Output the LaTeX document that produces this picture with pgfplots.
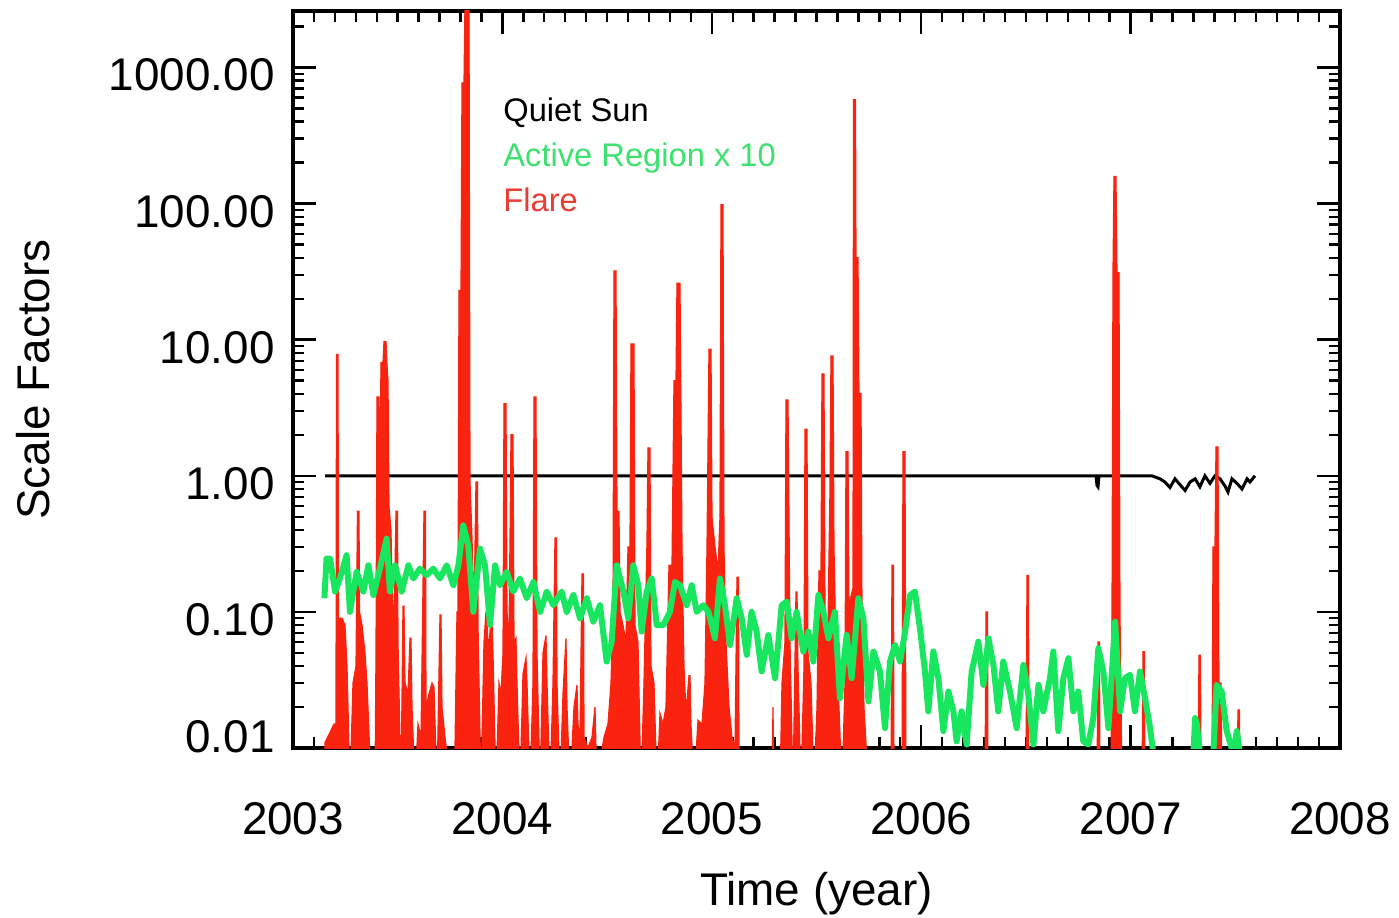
\documentclass[border=0pt]{standalone}
\usepackage{fontspec}
\setmainfont{Liberation Sans}
\usepackage{pgfplots}
\pgfplotsset{compat=1.18}
\usetikzlibrary{calc}
\definecolor{flarered}{RGB}{250,35,15}
\definecolor{argreen}{RGB}{25,230,95}
\definecolor{flaretext}{RGB}{235,60,50}
\definecolor{artext}{RGB}{60,225,110}
\begin{document}
\begin{tikzpicture}
\begin{axis}[name=ax, scale only axis, width=523.5bp, height=368.5bp,
  xmin=2003, xmax=2008, ymode=log, ymin=0.01, ymax=2600,
  axis line style={line width=2bp},
  xtick={2003,2004,2005,2006,2007,2008},
  xticklabels={2003,2004,2005,2006,2007,2008},
  minor x tick num=9,
  ytick={0.1,1,10,100,1000},
  yticklabels={0.10,1.00,10.00,100.00,1000.00},
  extra y ticks={0.01}, extra y tick labels={0.01},
  extra y tick style={yticklabel style={yshift=9.5bp}},
  minor ytick={0.02,0.03,0.04,0.05,0.06,0.07,0.08,0.09,0.2,0.3,0.4,0.5,0.6,0.7,0.8,0.9,2,3,4,5,6,7,8,9,20,30,40,50,60,70,80,90,200,300,400,500,600,700,800,900,2000},
  tick align=inside,
  major tick length=11.5bp, minor tick length=5.5bp,
  every tick/.style={black, line width=1.2bp},
  tick label style={font=\fontsize{23}{27}\selectfont, inner sep=0pt},
  xticklabel style={anchor=base, yshift=-43bp},
  yticklabel style={anchor=base east, xshift=-9bp, yshift=-11.75bp},
]
% Quiet Sun
\addplot[black, line width=1.5bp, mark=none] coordinates {
(2003.153,1.0) (2006.835,1.0) (2006.8395,0.85) (2006.8443,0.83) (2006.849,1.0) (2007.102,1.0)
(2007.140,0.95) (2007.164,0.9) (2007.188,0.82) (2007.212,0.95) (2007.236,0.86) (2007.260,0.78)
(2007.284,0.9) (2007.308,0.95) (2007.331,0.83) (2007.355,1.0) (2007.379,0.88) (2007.403,1.0)
(2007.427,0.95) (2007.451,0.84) (2007.465,0.76) (2007.484,0.95) (2007.508,0.88) (2007.532,0.8)
(2007.556,0.95) (2007.570,0.9) (2007.594,1.0)
};
% Flare
\addplot[draw=flarered, fill=flarered, line width=0.6bp, mark=none] coordinates {
(2003.1480,0.001) (2003.1528,0.011) (2003.1767,0.013) (2003.1958,0.015) (2003.2053,0.015)
(2003.2077,7.8) (2003.2149,7.8) (2003.2173,0.09) (2003.2340,0.09) (2003.2483,0.08)
(2003.2579,0.04) (2003.2722,0.005) (2003.2865,0.03) (2003.3009,0.04) (2003.3080,0.55)
(2003.3152,0.55) (2003.3176,0.1) (2003.3295,0.08) (2003.3438,0.05) (2003.3534,0.03)
(2003.3629,0.013) (2003.3725,0.005) (2003.3916,0.005) (2003.3964,0.05) (2003.4011,3.8)
(2003.4107,3.8) (2003.4155,1.0) (2003.4202,6.8) (2003.4298,6.8) (2003.4346,9.7)
(2003.4441,9.7) (2003.4489,6.5) (2003.4537,5) (2003.4584,0.6) (2003.4680,0.4)
(2003.4728,0.15) (2003.4823,0.08) (2003.4919,0.55) (2003.4990,0.55) (2003.5014,0.06)
(2003.5158,0.005) (2003.5253,0.11) (2003.5301,0.11) (2003.5349,0.03) (2003.5492,0.025)
(2003.5587,0.064) (2003.5635,0.064) (2003.5683,0.02) (2003.5826,0.005) (2003.5969,0.015)
(2003.6113,0.012) (2003.6256,0.55) (2003.6328,0.55) (2003.6351,0.02) (2003.6495,0.025)
(2003.6638,0.03) (2003.6733,0.028) (2003.6877,0.005) (2003.7020,0.095) (2003.7068,0.095)
(2003.7115,0.02) (2003.7259,0.012) (2003.7402,0.008) (2003.7593,0.005) (2003.7736,0.01)
(2003.7832,0.1) (2003.7880,0.1) (2003.7927,23) (2003.8023,23) (2003.8071,770)
(2003.8166,770) (2003.8214,3000) (2003.8405,3000) (2003.8453,0.9) (2003.8548,0.35)
(2003.8644,0.1) (2003.8739,0.9) (2003.8811,0.9) (2003.8835,0.08) (2003.8978,0.005)
(2003.9121,0.06) (2003.9217,0.1) (2003.9264,0.1) (2003.9312,0.05) (2003.9455,0.085)
(2003.9503,0.085) (2003.9551,0.05) (2003.9694,0.005) (2003.9838,0.03) (2003.9933,0.025)
(2004.0029,0.05) (2004.0076,3.4) (2004.0172,3.4) (2004.0220,0.1) (2004.0315,0.06)
(2004.0411,2.0) (2004.0506,2.0) (2004.0554,0.06) (2004.0649,0.064) (2004.0697,0.03)
(2004.0840,0.005) (2004.0984,0.035) (2004.1127,0.046) (2004.1175,0.03) (2004.1318,0.005)
(2004.1461,0.03) (2004.1509,3.8) (2004.1604,3.8) (2004.1652,0.05) (2004.1795,0.005)
(2004.1939,0.05) (2004.2082,0.067) (2004.2130,0.03) (2004.2273,0.005) (2004.2416,0.03)
(2004.2512,0.35) (2004.2583,0.35) (2004.2607,0.03) (2004.2751,0.005) (2004.2894,0.025)
(2004.3037,0.064) (2004.3085,0.02) (2004.3228,0.005) (2004.3419,0.02) (2004.3562,0.029)
(2004.3610,0.015) (2004.3706,0.012) (2004.3801,0.19) (2004.3873,0.19) (2004.3897,0.012)
(2004.4088,0.01) (2004.4279,0.012) (2004.4422,0.02) (2004.4470,0.01) (2004.4661,0.008)
(2004.4852,0.012) (2004.5043,0.015) (2004.5186,0.03) (2004.5282,0.1) (2004.5329,32)
(2004.5425,32) (2004.5473,0.55) (2004.5568,0.55) (2004.5616,0.1) (2004.5759,0.08)
(2004.5902,0.06) (2004.5998,0.3) (2004.6093,0.3) (2004.6141,9.3) (2004.6284,9.3)
(2004.6332,0.08) (2004.6475,0.06) (2004.6619,0.005) (2004.6762,0.03) (2004.6905,0.33)
(2004.6953,1.6) (2004.7048,1.6) (2004.7096,0.04) (2004.7240,0.03) (2004.7383,0.005)
(2004.7526,0.018) (2004.7669,0.015) (2004.7813,0.02) (2004.7956,0.22) (2004.8099,0.22)
(2004.8195,5) (2004.8290,5) (2004.8338,26) (2004.8481,26) (2004.8577,0.3)
(2004.8672,0.04) (2004.8768,0.018) (2004.8911,0.034) (2004.8959,0.034) (2004.9006,0.015)
(2004.9150,0.005) (2004.9341,0.016) (2004.9532,0.015) (2004.9675,0.03) (2004.9771,0.3)
(2004.9866,8.5) (2004.9962,8.5) (2005.0009,0.5) (2005.0153,0.3) (2005.0296,0.2)
(2005.0391,0.5) (2005.0439,98) (2005.0535,98) (2005.0582,0.3) (2005.0678,0.06)
(2005.0821,0.02) (2005.0964,0.012) (2005.1108,0.01) (2005.1203,0.18) (2005.1275,0.18)
(2005.1299,0.01) (2005.1442,0.006) (2005.1729,0.005) (2005.2875,0.005) (2005.2922,0.02)
(2005.2970,0.005) (2005.3257,0.005) (2005.3352,0.03) (2005.3495,0.06) (2005.3543,3.6)
(2005.3639,3.6) (2005.3686,0.5) (2005.3734,0.06) (2005.3878,0.005) (2005.4021,0.14)
(2005.4069,0.14) (2005.4116,0.04) (2005.4260,0.005) (2005.4403,0.04) (2005.4451,2.2)
(2005.4546,2.2) (2005.4594,0.05) (2005.4737,0.03) (2005.4880,0.005) (2005.5024,0.02)
(2005.5119,0.2) (2005.5215,0.2) (2005.5262,5.6) (2005.5358,5.6) (2005.5406,0.1)
(2005.5549,0.08) (2005.5644,0.8) (2005.5692,7.6) (2005.5788,7.6) (2005.5835,0.3)
(2005.5931,0.05) (2005.6074,0.02) (2005.6217,0.005) (2005.6361,0.03) (2005.6409,1.5)
(2005.6504,1.5) (2005.6552,0.1) (2005.6647,0.13) (2005.6743,0.15) (2005.6767,580)
(2005.6862,580) (2005.6886,40) (2005.6982,40) (2005.7029,4) (2005.7125,4)
(2005.7173,0.1) (2005.7268,0.02) (2005.7411,0.008) (2005.7555,0.005) (2005.8557,0.005)
(2005.8605,0.22) (2005.8677,0.22) (2005.8701,0.005) (2005.9083,0.005) (2005.9131,1.5)
(2005.9226,1.5) (2005.9274,0.005) (2006.3046,0.005) (2006.3094,0.1) (2006.3166,0.1)
(2006.3190,0.005) (2006.5004,0.005) (2006.5052,0.185) (2006.5124,0.185) (2006.5148,0.005)
(2006.8395,0.005) (2006.8443,0.06) (2006.8514,0.06) (2006.8538,0.005) (2006.9064,0.005)
(2006.9111,0.085) (2006.9159,31) (2006.9207,158) (2006.9302,158) (2006.9350,31)
(2006.9446,31) (2006.9493,0.1) (2006.9589,0.005) (2007.0544,0.005) (2007.0592,0.051)
(2007.0664,0.051) (2007.0687,0.005) (2007.3218,0.005) (2007.3266,0.048) (2007.3338,0.048)
(2007.3362,0.005) (2007.3887,0.005) (2007.3935,0.3) (2007.4030,0.3) (2007.4078,1.63)
(2007.4173,1.63) (2007.4221,0.03) (2007.4317,0.03) (2007.4364,0.005) (2007.5081,0.005)
(2007.5128,0.019) (2007.5200,0.019) (2007.5224,0.005) (2007.5463,0.001)
};
% Active Region x 10
\addplot[argreen, line width=3bp, line join=round, mark=none] coordinates {
(2003.150,0.126) (2003.160,0.246) (2003.177,0.246) (2003.201,0.141) (2003.224,0.176)
(2003.256,0.261) (2003.272,0.100) (2003.304,0.197) (2003.336,0.141) (2003.360,0.220)
(2003.384,0.133) (2003.415,0.208) (2003.447,0.345) (2003.463,0.141) (2003.487,0.220)
(2003.519,0.141) (2003.551,0.220) (2003.575,0.176) (2003.606,0.208) (2003.638,0.186)
(2003.670,0.208) (2003.702,0.176) (2003.734,0.220) (2003.766,0.157) (2003.790,0.220)
(2003.813,0.432) (2003.837,0.309) (2003.861,0.100) (2003.893,0.292) (2003.917,0.220)
(2003.941,0.080) (2003.965,0.220) (2003.989,0.157) (2004.021,0.197) (2004.052,0.141)
(2004.084,0.176) (2004.116,0.126) (2004.148,0.166) (2004.180,0.100) (2004.212,0.141)
(2004.243,0.112) (2004.283,0.141) (2004.307,0.100) (2004.339,0.133) (2004.371,0.0896)
(2004.403,0.126) (2004.434,0.0848) (2004.466,0.112) (2004.498,0.0432) (2004.522,0.0605)
(2004.546,0.220) (2004.578,0.141) (2004.601,0.0896) (2004.625,0.220) (2004.649,0.157)
(2004.665,0.0716) (2004.689,0.141) (2004.713,0.176) (2004.737,0.080) (2004.769,0.080)
(2004.800,0.100) (2004.824,0.166) (2004.848,0.157) (2004.880,0.112) (2004.904,0.157)
(2004.928,0.100) (2004.960,0.112) (2004.984,0.100) (2005.015,0.064) (2005.039,0.176)
(2005.063,0.112) (2005.087,0.0571) (2005.119,0.126) (2005.143,0.0896) (2005.167,0.0483)
(2005.190,0.100) (2005.214,0.0716) (2005.238,0.0365) (2005.270,0.0676) (2005.302,0.0326)
(2005.334,0.112) (2005.358,0.119) (2005.381,0.064) (2005.405,0.100) (2005.437,0.0511)
(2005.461,0.0716) (2005.485,0.0432) (2005.509,0.133) (2005.533,0.100) (2005.557,0.064)
(2005.588,0.100) (2005.612,0.0232) (2005.644,0.0676) (2005.668,0.0326) (2005.700,0.126)
(2005.724,0.0896) (2005.748,0.0220) (2005.772,0.0511) (2005.803,0.0365) (2005.827,0.0140)
(2005.851,0.0432) (2005.875,0.0571) (2005.899,0.0432) (2005.923,0.0716) (2005.947,0.133)
(2005.970,0.141) (2005.994,0.0760) (2006.018,0.0365) (2006.034,0.0186) (2006.058,0.0511)
(2006.082,0.0326) (2006.106,0.0133) (2006.130,0.0260) (2006.154,0.0186) (2006.169,0.0112)
(2006.193,0.0186) (2006.217,0.0106) (2006.241,0.0365) (2006.273,0.0605) (2006.297,0.0291)
(2006.321,0.064) (2006.345,0.0408) (2006.368,0.0186) (2006.392,0.0432) (2006.424,0.0260)
(2006.456,0.0140) (2006.488,0.0408) (2006.512,0.0246) (2006.536,0.0106) (2006.560,0.0291)
(2006.583,0.0186) (2006.615,0.0326) (2006.631,0.0511) (2006.655,0.0133) (2006.679,0.0326)
(2006.703,0.0457) (2006.727,0.0186) (2006.750,0.0260) (2006.774,0.0112) (2006.798,0.0106)
(2006.822,0.0166) (2006.846,0.054) (2006.870,0.0365) (2006.894,0.0140) (2006.926,0.0848)
(2006.950,0.0186) (2006.973,0.0326) (2006.997,0.0345) (2007.021,0.0186) (2007.045,0.0365)
(2007.069,0.0232) (2007.093,0.0140) (2007.109,0.009)
};
\addplot[argreen, line width=3bp, line join=round, mark=none] coordinates {
(2007.300,0.009) (2007.308,0.0166) (2007.316,0.015) (2007.332,0.009)
};
\addplot[argreen, line width=3bp, line join=round, mark=none] coordinates {
(2007.395,0.009) (2007.411,0.0291) (2007.435,0.026) (2007.459,0.0133) (2007.491,0.009)
(2007.507,0.0133) (2007.523,0.009)
};
\end{axis}
\node[rotate=90, anchor=base, inner sep=0pt, font=\fontsize{23}{27}\selectfont] at ($(ax.west)+(-121.5bp,0)$) {Scale Factors};
\node[anchor=base, inner sep=0pt, font=\fontsize{23}{27}\selectfont] at ($(ax.south)+(0,-78.5bp)$) {Time (year)};
\node[anchor=base west, inner sep=0pt, font=\fontsize{16.4}{19}\selectfont, text=black] at ($(ax.north west)+(105bp,-55.35bp)$) {Quiet Sun};
\node[anchor=base west, inner sep=0pt, font=\fontsize{16.4}{19}\selectfont, text=artext] at ($(ax.north west)+(105bp,-77.85bp)$) {Active Region x 10};
\node[anchor=base west, inner sep=0pt, font=\fontsize{16.4}{19}\selectfont, text=flaretext] at ($(ax.north west)+(105bp,-100.35bp)$) {Flare};
\pgfresetboundingbox
\path[use as bounding box] ($(ax.south west)+(-146.5bp,-85bp)$) rectangle ($(ax.north east)+(29.5bp,5.5bp)$);
\end{tikzpicture}
\end{document}
